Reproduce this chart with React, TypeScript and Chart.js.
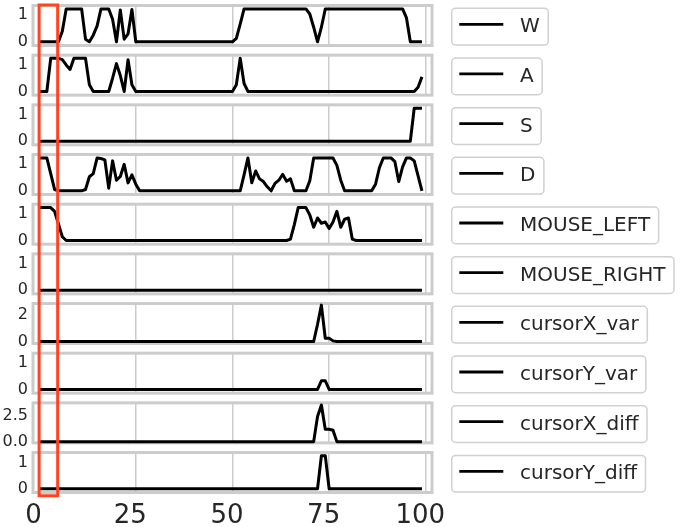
import React, { useEffect, useRef } from "react";
import { Chart, registerables } from "chart.js";

Chart.register(...registerables);

// ---------------- data ----------------
const STEPS: number[] = Array.from({ length: 100 }, (_, i) => i);

const SERIES_NAMES = [
  "W", "A", "S", "D", "MOUSE_LEFT", "MOUSE_RIGHT",
  "cursorX_var", "cursorY_var", "cursorX_diff", "cursorY_diff",
];

const W_VALUES = [
  0, 0, 0, 0, 0, 0, 0.4, 1.24, 1.24, 1.24,
  1.24, 1.24, 0.1, 0, 0.25, 0.6, 1.24, 1.24, 1.24, 0.85,
  0, 1.2, 0.1, 0.3, 1.22, 0, 0, 0, 0, 0,
  0, 0, 0, 0, 0, 0, 0, 0, 0, 0,
  0, 0, 0, 0, 0, 0, 0, 0, 0, 0,
  0, 0.13, 0.67, 1.24, 1.24, 1.24, 1.24, 1.24, 1.24, 1.24,
  1.24, 1.24, 1.24, 1.24, 1.24, 1.24, 1.24, 1.24, 1.24, 1.24,
  1.05, 0.55, 0, 0.55, 1.24, 1.24, 1.24, 1.24, 1.24, 1.24,
  1.24, 1.24, 1.24, 1.24, 1.24, 1.24, 1.24, 1.24, 1.24, 1.24,
  1.24, 1.24, 1.24, 1.24, 1.24, 0.9, 0, 0, 0, 0,
];

const A_VALUES = [
  0, 0, 0, 1.25, 1.25, 1.25, 1.2, 1.0, 0.83, 1.25,
  1.25, 1.25, 1.25, 0.25, 0, 0, 0, 0, 0, 0.5,
  1.05, 0.6, 0, 1.2, 0.25, 0, 0, 0, 0, 0,
  0, 0, 0, 0, 0, 0, 0, 0, 0, 0,
  0, 0, 0, 0, 0, 0, 0, 0, 0, 0,
  0, 0.25, 1.25, 0.3, 0, 0, 0, 0, 0, 0,
  0, 0, 0, 0, 0, 0, 0, 0, 0, 0,
  0, 0, 0, 0, 0, 0, 0, 0, 0, 0,
  0, 0, 0, 0, 0, 0, 0, 0, 0, 0,
  0, 0, 0, 0, 0, 0, 0, 0, 0.16, 0.55,
];

const S_VALUES = [
  0, 0, 0, 0, 0, 0, 0, 0, 0, 0,
  0, 0, 0, 0, 0, 0, 0, 0, 0, 0,
  0, 0, 0, 0, 0, 0, 0, 0, 0, 0,
  0, 0, 0, 0, 0, 0, 0, 0, 0, 0,
  0, 0, 0, 0, 0, 0, 0, 0, 0, 0,
  0, 0, 0, 0, 0, 0, 0, 0, 0, 0,
  0, 0, 0, 0, 0, 0, 0, 0, 0, 0,
  0, 0, 0, 0, 0, 0, 0, 0, 0, 0,
  0, 0, 0, 0, 0, 0, 0, 0, 0, 0,
  0, 0, 0, 0, 0, 0, 0, 1.24, 1.24, 1.24,
];

const D_VALUES = [
  1.24, 1.24, 1.24, 0.65, 0.05, 0, 0, 0, 0, 0,
  0, 0, 0.05, 0.53, 0.65, 1.24, 1.22, 1.17, 0.1, 1.13,
  0.4, 0.54, 1.0, 0.3, 0.6, 0.25, 0, 0, 0, 0,
  0, 0, 0, 0, 0, 0, 0, 0, 0, 0,
  0, 0, 0, 0, 0, 0, 0, 0, 0, 0,
  0, 0, 0, 0.6, 1.24, 0.3, 0.75, 0.45, 0.35, 0.15,
  0, 0.28, 0.4, 0.62, 0.36, 0.45, 0, 0, 0, 0,
  0.38, 1.24, 1.24, 1.24, 1.24, 1.24, 1.24, 0.96, 0.4, 0,
  0, 0, 0, 0, 0, 0, 0, 0.25, 0.87, 1.24,
  1.24, 1.24, 1.1, 0.35, 0.9, 1.24, 1.24, 1.13, 0.56, 0,
];

const MOUSE_LEFT_VALUES = [
  1.24, 1.24, 1.24, 1.24, 1.1, 0.62, 0.14, 0, 0, 0,
  0, 0, 0, 0, 0, 0, 0, 0, 0, 0,
  0, 0, 0, 0, 0, 0, 0, 0, 0, 0,
  0, 0, 0, 0, 0, 0, 0, 0, 0, 0,
  0, 0, 0, 0, 0, 0, 0, 0, 0, 0,
  0, 0, 0, 0, 0, 0, 0, 0, 0, 0,
  0, 0, 0, 0, 0, 0.05, 0.6, 1.24, 1.24, 1.24,
  0.96, 0.5, 0.85, 0.65, 0.7, 0.45, 0.7, 1.1, 0.5, 0.8,
  0.85, 0.05, 0, 0, 0, 0, 0, 0, 0, 0,
  0, 0, 0, 0, 0, 0, 0, 0, 0, 0,
];

const MOUSE_RIGHT_VALUES = [
  0, 0, 0, 0, 0, 0, 0, 0, 0, 0,
  0, 0, 0, 0, 0, 0, 0, 0, 0, 0,
  0, 0, 0, 0, 0, 0, 0, 0, 0, 0,
  0, 0, 0, 0, 0, 0, 0, 0, 0, 0,
  0, 0, 0, 0, 0, 0, 0, 0, 0, 0,
  0, 0, 0, 0, 0, 0, 0, 0, 0, 0,
  0, 0, 0, 0, 0, 0, 0, 0, 0, 0,
  0, 0, 0, 0, 0, 0, 0, 0, 0, 0,
  0, 0, 0, 0, 0, 0, 0, 0, 0, 0,
  0, 0, 0, 0, 0, 0, 0, 0, 0, 0,
];

const CURSOR_X_VAR_VALUES = [
  0, 0, 0, 0, 0, 0, 0, 0, 0, 0,
  0, 0, 0, 0, 0, 0, 0, 0, 0, 0,
  0, 0, 0, 0, 0, 0, 0, 0, 0, 0,
  0, 0, 0, 0, 0, 0, 0, 0, 0, 0,
  0, 0, 0, 0, 0, 0, 0, 0, 0, 0,
  0, 0, 0, 0, 0, 0, 0, 0, 0, 0,
  0, 0, 0, 0, 0, 0, 0, 0, 0, 0,
  0, 0, 1.3, 2.75, 0.25, 0.25, 0.05, 0, 0, 0,
  0, 0, 0, 0, 0, 0, 0, 0, 0, 0,
  0, 0, 0, 0, 0, 0, 0, 0, 0, 0,
];

const CURSOR_Y_VAR_VALUES = [
  0, 0, 0, 0, 0, 0, 0, 0, 0, 0,
  0, 0, 0, 0, 0, 0, 0, 0, 0, 0,
  0, 0, 0, 0, 0, 0, 0, 0, 0, 0,
  0, 0, 0, 0, 0, 0, 0, 0, 0, 0,
  0, 0, 0, 0, 0, 0, 0, 0, 0, 0,
  0, 0, 0, 0, 0, 0, 0, 0, 0, 0,
  0, 0, 0, 0, 0, 0, 0, 0, 0, 0,
  0, 0, 0, 0.33, 0.33, 0, 0, 0, 0, 0,
  0, 0, 0, 0, 0, 0, 0, 0, 0, 0,
  0, 0, 0, 0, 0, 0, 0, 0, 0, 0,
];

const CURSOR_X_DIFF_VALUES = [
  0, 0, 0, 0, 0, 0, 0, 0, 0, 0,
  0, 0, 0, 0, 0, 0, 0, 0, 0, 0,
  0, 0, 0, 0, 0, 0, 0, 0, 0, 0,
  0, 0, 0, 0, 0, 0, 0, 0, 0, 0,
  0, 0, 0, 0, 0, 0, 0, 0, 0, 0,
  0, 0, 0, 0, 0, 0, 0, 0, 0, 0,
  0, 0, 0, 0, 0, 0, 0, 0, 0, 0,
  0, 0, 2.45, 3.56, 1.2, 1.2, 1.1, 0, 0, 0,
  0, 0, 0, 0, 0, 0, 0, 0, 0, 0,
  0, 0, 0, 0, 0, 0, 0, 0, 0, 0,
];

const CURSOR_Y_DIFF_VALUES = [
  0, 0, 0, 0, 0, 0, 0, 0, 0, 0,
  0, 0, 0, 0, 0, 0, 0, 0, 0, 0,
  0, 0, 0, 0, 0, 0, 0, 0, 0, 0,
  0, 0, 0, 0, 0, 0, 0, 0, 0, 0,
  0, 0, 0, 0, 0, 0, 0, 0, 0, 0,
  0, 0, 0, 0, 0, 0, 0, 0, 0, 0,
  0, 0, 0, 0, 0, 0, 0, 0, 0, 0,
  0, 0, 0, 1.27, 1.27, 0, 0, 0, 0, 0,
  0, 0, 0, 0, 0, 0, 0, 0, 0, 0,
  0, 0, 0, 0, 0, 0, 0, 0, 0, 0,
];

const SERIES_VALUES = [
  W_VALUES, A_VALUES, S_VALUES, D_VALUES, MOUSE_LEFT_VALUES, MOUSE_RIGHT_VALUES,
  CURSOR_X_VAR_VALUES, CURSOR_Y_VAR_VALUES, CURSOR_X_DIFF_VALUES, CURSOR_Y_DIFF_VALUES,
];

const Y_TICKS = [
  [0, 1], [0, 1], [0, 1], [0, 1], [0, 1], [0, 1],
  [0, 2], [0, 1], [0, 2.5], [0, 1],
];
const Y_TICK_DECIMALS = [0, 0, 0, 0, 0, 0, 0, 0, 1, 0];
const Y_LIMITS = [
  [-0.14, 1.37], [-0.14, 1.37], [-0.14, 1.37], [-0.14, 1.37], [-0.14, 1.37], [-0.14, 1.37],
  [-0.15, 2.87], [-0.14, 1.37], [-0.12, 3.77], [-0.146, 1.39],
];

const X_TICKS = [0, 25, 50, 75, 100];
const X_LIMITS = [-1.58, 101.6];
const HIGHLIGHT_RANGE = [0, 4.8];

// ---------------- layout / style ----------------
const FIG_W = 685;
const FIG_H = 527;
const ROW_PITCH = 49.67;
const FIRST_ROW_TOP = 4;
const FRAME_OFFSET = 1.5;
const AREA_HEIGHT = 40;
const AREA_LEFT = 33;
const AREA_RIGHT = 432;
const FONT = "'DejaVu Sans', 'Liberation Sans', sans-serif";
const TEXT_COLOR = "#262626";
const GRID_COLOR = "#cccccc";
const FRAME_COLOR = "#cccccc";
const HIGHLIGHT_COLOR = "#ff4422";
const LEGEND_LEFT = 451.7;
const LEGEND_LINE = [459.3, 503.3];
const LEGEND_TEXT_X = 520;

function RowChart({ index }: { index: number }) {
  const ref = useRef<HTMLCanvasElement | null>(null);
  const n = SERIES_NAMES.length;
  const isFirst = index === 0;
  const isLast = index === n - 1;
  const canvasTop = Math.floor(ROW_PITCH * index);
  const canvasBottom = isLast ? FIG_H : Math.floor(ROW_PITCH * (index + 1));
  const h = canvasBottom - canvasTop;
  const areaTop = FIRST_ROW_TOP + ROW_PITCH * index + FRAME_OFFSET - canvasTop;
  const areaBottom = areaTop + AREA_HEIGHT;

  useEffect(() => {
    const name = SERIES_NAMES[index];
    const decorations = {
      id: "decorations" + index,
      beforeDatasetsDraw(chart: any) {
        const { ctx, chartArea: a } = chart;
        ctx.save();
        ctx.strokeStyle = FRAME_COLOR;
        ctx.lineWidth = 3;
        ctx.strokeRect(a.left, a.top, a.right - a.left, a.bottom - a.top);
        ctx.restore();
      },
      afterDraw(chart: any) {
        const { ctx, chartArea: a } = chart;
        // legend box
        ctx.save();
        const cy = (a.top + a.bottom) / 2 + 1.2;
        ctx.font = `20px ${FONT}`;
        const tw = ctx.measureText(name).width;
        const bx = LEGEND_LEFT;
        const bw = LEGEND_TEXT_X + tw + 8.5 - bx;
        const bh = 36.7;
        const by = cy - bh / 2;
        ctx.beginPath();
        (ctx as any).roundRect(bx, by, bw, bh, 4);
        ctx.fillStyle = "#ffffff";
        ctx.fill();
        ctx.strokeStyle = "#d0d0d0";
        ctx.lineWidth = 1.5;
        ctx.stroke();
        ctx.beginPath();
        ctx.moveTo(LEGEND_LINE[0], cy - 2.4);
        ctx.lineTo(LEGEND_LINE[1], cy - 2.4);
        ctx.strokeStyle = "#000000";
        ctx.lineWidth = 2.8;
        ctx.stroke();
        ctx.fillStyle = TEXT_COLOR;
        ctx.textBaseline = "alphabetic";
        ctx.textAlign = "left";
        ctx.fillText(name, LEGEND_TEXT_X, cy + 5.6);
        ctx.restore();

        // highlight rectangle (continues across rows)
        const xs = chart.scales.x;
        const xl = xs.getPixelForValue(HIGHLIGHT_RANGE[0]);
        const xr = xs.getPixelForValue(HIGHLIGHT_RANGE[1]);
        const top = isFirst ? a.top - 0.5 : -3;
        const bottom = isLast ? a.bottom + 3.3 : chart.height + 3;
        ctx.save();
        ctx.strokeStyle = HIGHLIGHT_COLOR;
        ctx.lineWidth = 3;
        ctx.lineJoin = "miter";
        ctx.beginPath();
        if (isFirst) {
          ctx.moveTo(xl, bottom);
          ctx.lineTo(xl, top);
          ctx.lineTo(xr, top);
          ctx.lineTo(xr, bottom);
        } else if (isLast) {
          ctx.moveTo(xl, top);
          ctx.lineTo(xl, bottom);
          ctx.lineTo(xr, bottom);
          ctx.lineTo(xr, top);
        } else {
          ctx.moveTo(xl, top);
          ctx.lineTo(xl, bottom);
          ctx.moveTo(xr, top);
          ctx.lineTo(xr, bottom);
        }
        ctx.stroke();
        ctx.restore();
      },
    };

    const chart = new Chart(ref.current as HTMLCanvasElement, {
      type: "line",
      data: {
        labels: STEPS,
        datasets: [
          {
            label: name,
            data: SERIES_VALUES[index],
            borderColor: "#000000",
            borderWidth: 3,
            borderJoinStyle: "round",
            pointRadius: 0,
            tension: 0,
            fill: false,
            clip: false,
          } as any,
        ],
      },
      options: {
        responsive: false,
        animation: false,
        devicePixelRatio: 1,
        events: [],
        layout: {
          padding: {
            top: areaTop,
            left: 0,
            right: FIG_W - AREA_RIGHT,
            bottom: isLast ? 0 : h - areaBottom,
          },
        },
        plugins: {
          legend: { display: false },
          tooltip: { enabled: false },
        },
        scales: {
          x: {
            type: "linear",
            min: X_LIMITS[0],
            max: X_LIMITS[1],
            afterBuildTicks: (s: any) => {
              s.ticks = X_TICKS.map((v) => ({ value: v }));
            },
            afterFit: (s: any) => {
              s.height = isLast ? h - areaBottom : 0;
              s.paddingLeft = 0;
              s.paddingRight = 0;
            },
            grid: { color: GRID_COLOR, lineWidth: 1.5, drawTicks: false },
            border: { display: false },
            ticks: {
              display: isLast,
              autoSkip: false,
              maxRotation: 0,
              padding: 8,
              labelOffset: -5.5,
              color: TEXT_COLOR,
              font: { family: FONT, size: 26 },
            },
          },
          y: {
            type: "linear",
            min: Y_LIMITS[index][0],
            max: Y_LIMITS[index][1],
            afterBuildTicks: (s: any) => {
              s.ticks = Y_TICKS[index].map((v) => ({ value: v }));
            },
            afterFit: (s: any) => {
              s.width = AREA_LEFT;
              s.paddingTop = 0;
              s.paddingBottom = 0;
            },
            grid: { display: false, drawTicks: false },
            border: { display: false },
            ticks: {
              padding: 5,
              color: TEXT_COLOR,
              font: { family: FONT, size: 16 },
              callback: (v: any) => Number(v).toFixed(Y_TICK_DECIMALS[index]),
            },
          },
        },
      } as any,
      plugins: [decorations],
    });
    return () => chart.destroy();
  }, []);

  return (
    <canvas
      ref={ref}
      width={FIG_W}
      height={h}
      style={{ position: "absolute", left: 0, top: canvasTop, width: FIG_W, height: h, display: "block" }}
    />
  );
}

export default function App() {
  return (
    <div
      style={{
        position: "absolute",
        left: 0,
        top: 0,
        width: FIG_W,
        height: FIG_H,
        background: "#ffffff",
        overflow: "hidden",
      }}
    >
      {SERIES_NAMES.map((_, i) => (
        <RowChart key={i} index={i} />
      ))}
    </div>
  );
}
